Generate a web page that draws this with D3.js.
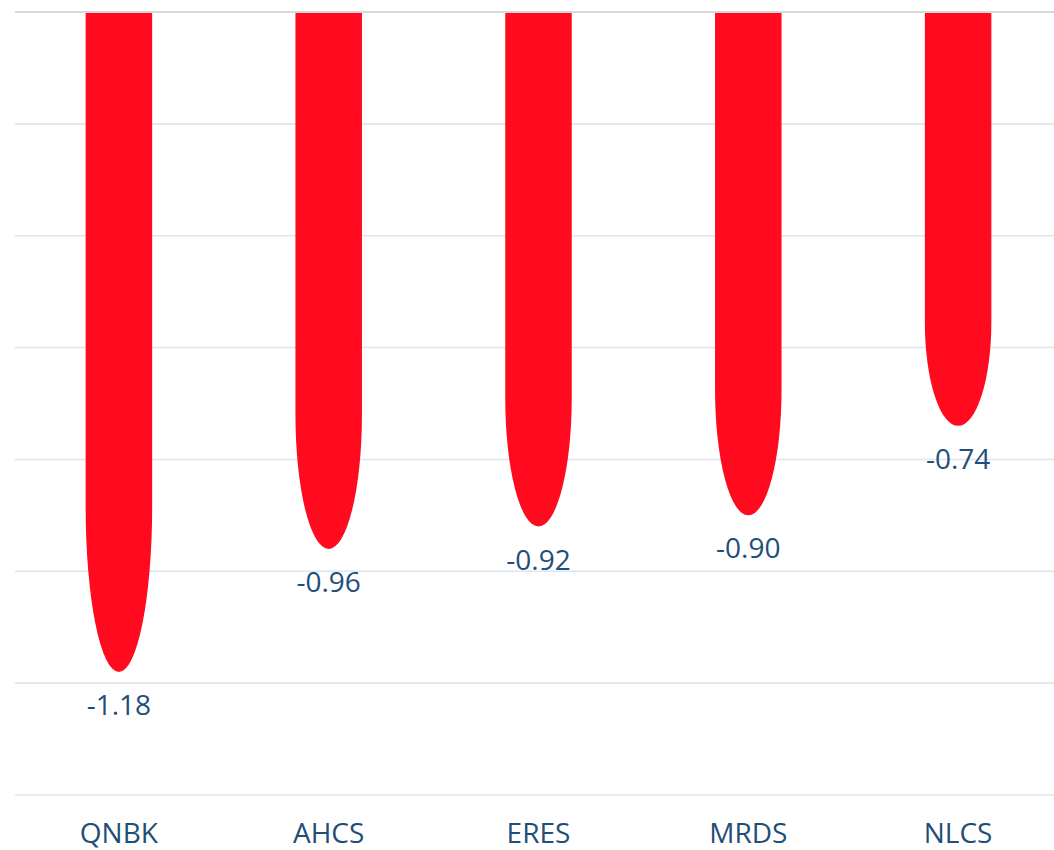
<!DOCTYPE html>
<html>
<head>
<meta charset="utf-8">
<script src="https://cdn.jsdelivr.net/npm/d3@7"></script>
<style>
  html, body { margin: 0; padding: 0; background: #fff; overflow: hidden; }
</style>
</head>
<body>
<div id="chart"></div>
<script>
const categories = ["QNBK", "AHCS", "ERES", "MRDS", "NLCS"];
const values = [-1.18, -0.96, -0.92, -0.90, -0.74];
const gridTicks = [0, -0.2, -0.4, -0.6, -0.8, -1.0, -1.2, -1.4];

const width = 1054, height = 850;

const svg = d3.select("#chart")
  .append("svg")
  .attr("width", width)
  .attr("height", height)
  .style("font-family", "'Open Sans', sans-serif");

const x = d3.scaleBand()
  .domain(categories)
  .range([14, 1063])
  .paddingInner(0.683)
  .paddingOuter(0.3415);

const y = d3.scaleLinear()
  .domain([-1.4, 0])
  .range([795, 12]);

// gridlines
svg.append("g")
  .selectAll("line")
  .data(gridTicks.filter(d => d !== 0))
  .join("line")
  .attr("x1", 15)
  .attr("x2", 1063)
  .attr("y1", d => y(d))
  .attr("y2", d => y(d))
  .attr("stroke", "#dce6f2")
  .attr("stroke-width", 1.6);

// bullet shaped bars: straight sides with an elliptical bottom
function bulletPath(d, i) {
  const left = x(categories[i]);
  const w = x.bandwidth();
  const top = y(0);
  const tip = y(d);
  const ry = (tip - top) * 0.25;
  const rx = w / 2;
  return `M${left},${top} V${tip - ry} A${rx},${ry} 0 0 0 ${left + w},${tip - ry} V${top} Z`;
}

svg.append("g")
  .selectAll("path")
  .data(values)
  .join("path")
  .attr("d", bulletPath)
  .attr("fill", "#ff0a1f");

// zero line on top
svg.append("line")
  .attr("x1", 15)
  .attr("x2", 1063)
  .attr("y1", y(0))
  .attr("y2", y(0))
  .attr("stroke", "#d9d9d9")
  .attr("stroke-width", 2);

// value labels
svg.append("g")
  .selectAll("text")
  .data(values)
  .join("text")
  .attr("x", (d, i) => x(categories[i]) + x.bandwidth() / 2)
  .attr("y", d => y(d) + 43)
  .attr("text-anchor", "middle")
  .attr("font-size", 28)
  .attr("fill", "#1f4e79")
  .text(d => d.toFixed(2));

// category labels
svg.append("g")
  .selectAll("text")
  .data(categories)
  .join("text")
  .attr("x", d => x(d) + x.bandwidth() / 2)
  .attr("y", 843)
  .attr("text-anchor", "middle")
  .attr("font-size", 28)
  .attr("fill", "#1f4e79")
  .text(d => d);
</script>
</body>
</html>
